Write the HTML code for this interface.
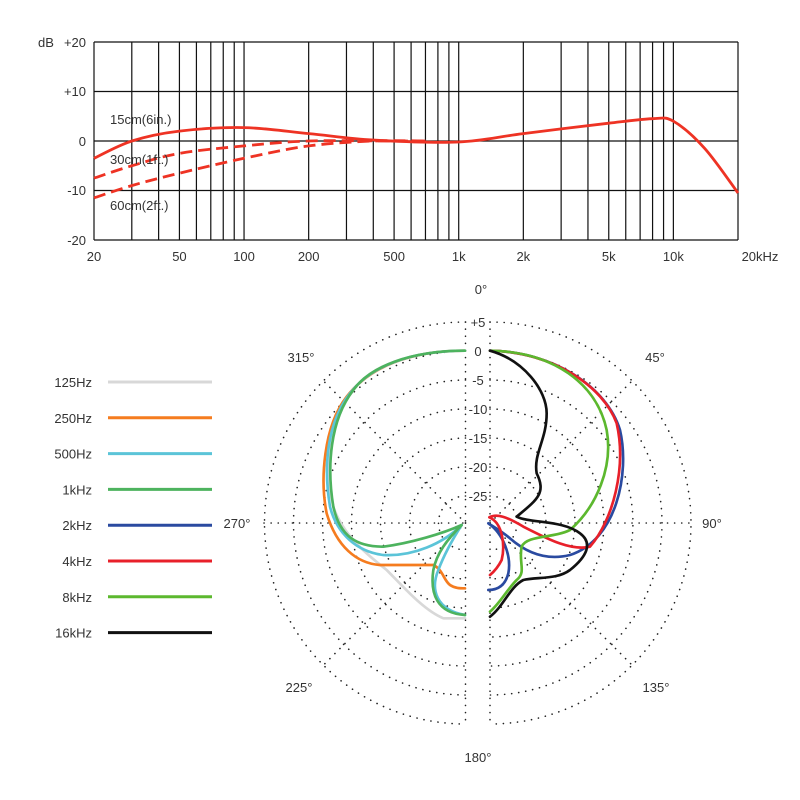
<!DOCTYPE html>
<html><head><meta charset="utf-8"><style>
body{margin:0;background:#fff;}
svg{display:block;font-family:"Liberation Sans",sans-serif;}
</style></head><body>
<svg id="s" width="800" height="800" viewBox="0 0 800 800" xmlns="http://www.w3.org/2000/svg">
<g id="topc"></g>
<g font-size="13" fill="#333">
<text x="38" y="47">dB</text>
<text x="86" y="47" text-anchor="end">+20</text>
<text x="86" y="96" text-anchor="end">+10</text>
<text x="86" y="146" text-anchor="end">0</text>
<text x="86" y="195" text-anchor="end">-10</text>
<text x="86" y="245" text-anchor="end">-20</text>
<text x="110" y="124">15cm(6in.)</text>
<text x="110" y="164">30cm(1ft.)</text>
<text x="110" y="210">60cm(2ft.)</text>
</g>
<g id="polar"></g>
<g font-size="13" fill="#333">
<text x="481" y="294" text-anchor="middle">0°</text>
<text x="478" y="762" text-anchor="middle">180°</text>
<text x="237" y="528" text-anchor="middle">270°</text>
<text x="712" y="528" text-anchor="middle">90°</text>
<text x="301" y="362" text-anchor="middle">315°</text>
<text x="655" y="362" text-anchor="middle">45°</text>
<text x="299" y="692" text-anchor="middle">225°</text>
<text x="656" y="692" text-anchor="middle">135°</text>
</g>
<g font-size="13" fill="#333" id="leg"></g>
</svg>
<script>
(function(){
const NS="http://www.w3.org/2000/svg";
function el(p,t,a,txt){const e=document.createElementNS(NS,t);for(const k in a)e.setAttribute(k,a[k]);if(txt!=null)e.textContent=txt;p.appendChild(e);return e;}
const tc=document.getElementById('topc');
const L=94,R=738,T=42,B=240,D=(R-L)/3;
const X=f=>L+D*Math.log10(f/20), Y=d=>141-d*4.95;
let fr=[];for(let f=20;f<=100;f+=10)fr.push(f);for(let f=200;f<=1000;f+=100)fr.push(f);for(let f=2000;f<=10000;f+=1000)fr.push(f);fr.push(20000);
fr.forEach(f=>el(tc,'line',{x1:X(f),x2:X(f),y1:T,y2:B,stroke:'#111','stroke-width':1.2}));
[20,10,0,-10,-20].forEach(d=>el(tc,'line',{x1:L,x2:R,y1:Y(d),y2:Y(d),stroke:'#111','stroke-width':1.2}));
[[20,'20'],[50,'50'],[100,'100'],[200,'200'],[500,'500'],[1000,'1k'],[2000,'2k'],[5000,'5k'],[10000,'10k']].forEach(([f,t])=>el(tc,'text',{x:X(f),y:261,'font-size':13,fill:'#333','text-anchor':'middle'},t));
el(tc,'text',{x:R+22,y:261,'font-size':13,fill:'#333','text-anchor':'middle'},'20kHz');
function cr(pts){let d='M'+pts[0][0].toFixed(1)+','+pts[0][1].toFixed(1);for(let i=0;i<pts.length-1;i++){const p0=pts[i-1]||pts[i],p1=pts[i],p2=pts[i+1],p3=pts[i+2]||p2;d+=` C${(p1[0]+(p2[0]-p0[0])/6).toFixed(1)},${(p1[1]+(p2[1]-p0[1])/6).toFixed(1)} ${(p2[0]-(p3[0]-p1[0])/6).toFixed(1)},${(p2[1]-(p3[1]-p1[1])/6).toFixed(1)} ${p2[0].toFixed(1)},${p2[1].toFixed(1)}`;}return d;}
const m=a=>a.map(([f,d])=>[X(f),Y(d)]);
el(tc,'path',{d:cr(m([[20,-3.5],[30,0],[50,2],[100,2.7],[200,1.5],[400,0.2],[1000,-0.2],[2000,1.5],[5000,3.6],[8000,4.5],[10000,4],[14000,-1.5],[20000,-10.5]])),fill:'none',stroke:'#ee3324','stroke-width':2.8});
el(tc,'path',{d:cr(m([[20,-7.5],[30,-5],[50,-2.5],[100,-1],[200,0],[500,0],[700,0]])),fill:'none',stroke:'#ee3324','stroke-width':2.8,'stroke-dasharray':'12 6'});
el(tc,'path',{d:cr(m([[20,-11.5],[30,-9],[50,-6.5],[100,-3.5],[200,-1],[400,0],[700,0]])),fill:'none',stroke:'#ee3324','stroke-width':2.8,'stroke-dasharray':'12 6'});
const P=document.getElementById('polar');
const cy=523,cl=465.5,crx=490;
const dot={fill:'none',stroke:'#222','stroke-width':1.6,'stroke-dasharray':'0.1 7','stroke-linecap':'round'};
[201,172,143,114,85,56,27].forEach(r=>{
 el(P,'path',Object.assign({d:`M${cl},${cy-r} A${r},${r} 0 0 0 ${cl},${cy+r}`},dot));
 el(P,'path',Object.assign({d:`M${crx},${cy-r} A${r},${r} 0 0 1 ${crx},${cy+r}`},dot));});
el(P,'line',Object.assign({x1:cl,y1:322,x2:cl,y2:724},dot));
el(P,'line',Object.assign({x1:crx,y1:322,x2:crx,y2:724},dot));
el(P,'line',Object.assign({x1:264,y1:cy,x2:cl,y2:cy},dot));
el(P,'line',Object.assign({x1:crx,y1:cy,x2:691,y2:cy},dot));
const q=201*Math.SQRT1_2;
[[cl,-1,-1],[cl,-1,1],[crx,1,-1],[crx,1,1]].forEach(([x,sx,sy])=>el(P,'line',Object.assign({x1:x,y1:cy,x2:x+sx*q,y2:cy+sy*q},dot)));
[['+5',322],['0',351],['-5',380],['-10',409],['-15',438],['-20',467],['-25',496]].forEach(([t,y])=>{el(P,'rect',{x:468,y:y-8,width:20,height:14,fill:'#fff'});el(P,'text',{x:478,y:y+5,'font-size':13,fill:'#333','text-anchor':'middle'},t);});
const g=el(P,'g',{transform:'translate(270,280) scale(0.33333)',fill:'none','stroke-width':8,'stroke-linecap':'round','stroke-linejoin':'round'});
const curves=[
['#d8d8d8','M585,212 C420,212 300,260 250,330 C180,420 160,560 190,680 C220,770 300,830 350,870 C400,920 460,990 520,1015 L585,1015'],
['#f57c1f','M585,212 C420,212 300,260 230,350 C160,440 150,600 170,700 C200,800 260,850 330,855 L490,855 C520,870 520,900 540,915 C555,925 570,925 585,925'],
['#5bc4d8','M585,212 C420,212 300,260 240,340 C170,430 160,560 180,680 C200,760 260,815 340,825 C430,830 520,790 575,735 C540,790 520,830 505,870 C480,930 500,990 585,1005'],
['#4db35e','M585,212 C420,212 300,260 250,330 C180,420 170,560 190,680 C210,770 260,800 340,800 C420,790 520,760 575,735 C530,780 500,820 490,870 C480,940 500,1000 585,1005'],
['#2a4aa0','M660,212 C850,215 1010,320 1050,450 C1080,580 1040,780 900,825 C820,845 760,810 720,775 C690,750 670,740 655,730 C700,760 725,830 715,880 C705,920 680,930 655,930'],
['#e8202a','M660,212 C850,215 1000,320 1040,430 C1070,560 1030,720 960,800 C900,815 820,770 760,740 C710,710 680,700 658,712 C700,730 705,800 695,840 C685,860 672,875 660,885'],
['#5cb82e','M660,212 C850,215 980,310 1010,450 C1030,560 980,680 900,750 C850,775 770,765 755,800 C745,850 770,875 740,900 C710,930 690,970 660,995'],
['#111','M660,212 C760,240 830,330 830,400 C830,480 790,520 800,580 C830,640 800,660 740,710 C780,730 880,720 930,760 C970,790 950,830 900,870 C860,900 800,890 760,900 C720,920 700,980 660,1010']];
curves.forEach(([c,d])=>el(g,'path',{d:d,stroke:c}));
const leg=document.getElementById('leg');
[['125Hz','#d8d8d8'],['250Hz','#f57c1f'],['500Hz','#5bc4d8'],['1kHz','#4db35e'],['2kHz','#2a4aa0'],['4kHz','#e8202a'],['8kHz','#5cb82e'],['16kHz','#111']].forEach(([t,c],i)=>{const y=382+i*35.8;el(leg,'text',{x:92,y:y+5,'text-anchor':'end'},t);el(leg,'line',{x1:108,x2:212,y1:y,y2:y,stroke:c,'stroke-width':3});});
})();
</script>
</body></html>
